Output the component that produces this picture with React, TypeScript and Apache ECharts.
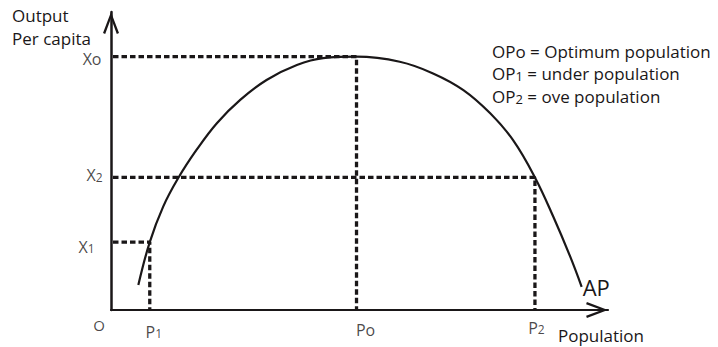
import React, { useEffect, useRef } from "react";
import * as echarts from "echarts";

// Average product (output per capita) curve
const curveX = [5.5, 7.8, 10.5, 13.5, 17.2, 21.3, 26.0, 31.3, 37.4, 42.7, 49.4, 58.1, 64.8, 70.9, 76.3, 80.9, 85.3, 89.0, 92.4, 94.7];
const curveY = [8.4, 22.8, 34.7, 44.2, 53.7, 62.7, 70.5, 77.2, 82.2, 84.5, 85.0, 83.3, 79.4, 73.8, 66.0, 57.0, 44.5, 31.3, 17.9, 7.8];

// Reference points: P1 / Po / P2 on the population axis, X1 / Xo / X2 on the output axis
const markSubs = ["1", "o", "2"];
const populationMarks = [7.8, 49.4, 85.3];
const outputLevels = [22.8, 85.0, 44.5];

// Legend lines
const legendSubs = ["o", "1", "2"];
const legendTexts = ["Optimum population", "under population", "ove population"];

const FONT = "'Open Sans', 'DejaVu Sans', sans-serif";
const INK = "#1a1718";

const sub = (main: string, s: string, tail = "") =>
  (s === "o" ? `{m|${main}o}` : `{m|${main}}{s|${s}}`) + (tail ? `{m|${tail}}` : "");

const ARROW = "path://M8 0 L16 21 L13.8 21.8 L8 6.2 L2.2 21.8 L0 21 Z";

export default function App() {
  const ref = useRef<HTMLDivElement>(null);

  useEffect(() => {
    if (!ref.current) return;
    const chart = echarts.init(ref.current, undefined, { renderer: "svg" });

    const labelRich = (size: number) => ({
      m: { fontSize: size, fontFamily: FONT, color: INK },
      s: { fontSize: Math.round(size * 0.75), fontFamily: FONT, color: INK, verticalAlign: "bottom" },
    });

    const yOffsets = [[-7, 4.5], [0, 2.5], [1, -2]];
    const xOffsets = [[4, 2], [9, 0], [1.5, -2]];

    const dashSeries = populationMarks.map((p, i) => ({
      type: "line",
      data: [[0, outputLevels[i]], [p, outputLevels[i]], [p, 0]],
      symbol: "none",
      lineStyle: { color: INK, width: 3.3, type: [5.5, 3], dashOffset: -2 },
      silent: true,
      z: 2,
    }));

    const option: any = {
      animation: false,
      backgroundColor: "#ffffff",
      grid: { left: 111, right: 110, top: 12, bottom: 37, containLabel: false, outerBoundsMode: "none" },
      xAxis: {
        type: "value",
        min: 0,
        max: 100,
        axisLine: {
          show: true,
          onZero: false,
          symbol: ["none", ARROW],
          symbolSize: [16, 22],
          symbolOffset: [0, -11],
          lineStyle: { color: INK, width: 2.2 },
        },
        axisTick: { show: false },
        axisLabel: { show: false },
        splitLine: { show: false },
      },
      yAxis: {
        type: "value",
        min: 0,
        max: 100,
        axisLine: {
          show: true,
          onZero: false,
          symbol: ["none", ARROW],
          symbolSize: [16, 22],
          symbolOffset: [0, -11],
          lineStyle: { color: INK, width: 2.5 },
        },
        axisTick: { show: false },
        axisLabel: { show: false },
        splitLine: { show: false },
      },
      series: [
        ...dashSeries,
        {
          type: "line",
          name: "AP",
          data: curveX.map((x, i) => [x, curveY[i]]),
          smooth: 0.4,
          symbol: "none",
          lineStyle: { color: INK, width: 2.2 },
          endLabel: {
            show: true,
            formatter: "AP",
            distance: 1,
            fontSize: 22,
            fontFamily: FONT,
            color: INK,
          },
          z: 3,
        },
        {
          type: "scatter",
          symbolSize: 1,
          itemStyle: { color: "transparent" },
          silent: true,
          data: outputLevels.map((l, i) => ({
            value: [0, l],
            label: {
              show: true,
              position: "left",
              distance: 9,
              offset: yOffsets[i],
              formatter: sub("X", markSubs[i]),
              rich: labelRich(16),
            },
          })),
          z: 4,
        },
        {
          type: "scatter",
          symbolSize: 1,
          itemStyle: { color: "transparent" },
          silent: true,
          data: [
            ...populationMarks.map((p, i) => ({
              value: [p, 0],
              label: {
                show: true,
                position: "bottom",
                distance: 11,
                offset: xOffsets[i],
                formatter: sub("P", markSubs[i]),
                rich: labelRich(16),
              },
            })),
            {
              value: [0, 0],
              label: {
                show: true,
                position: "bottom",
                distance: 11,
                offset: [-12, -4.5],
                formatter: "O",
                fontSize: 15,
                fontFamily: FONT,
                color: INK,
              },
            },
          ],
          z: 4,
        },
      ],
      graphic: [
        {
          type: "text",
          x: 12,
          y: 15.3,
          style: { text: "Output", fontSize: 17, fontFamily: FONT, fill: INK, verticalAlign: "middle", align: "left" },
        },
        {
          type: "text",
          x: 12,
          y: 38.8,
          style: { text: "Per capita", fontSize: 17, fontFamily: FONT, fill: INK, verticalAlign: "middle", align: "left" },
        },
        {
          type: "text",
          x: 558,
          y: 335,
          style: { text: "Population", fontSize: 17, fontFamily: FONT, fill: INK, verticalAlign: "middle", align: "left" },
        },
        ...legendTexts.map((t, i) => ({
          type: "text",
          x: 492,
          y: [51.7, 73.8, 96.7][i],
          style: {
            text: sub("OP", legendSubs[i], " = " + t),
            verticalAlign: "middle",
            align: "left",
            fontSize: 17,
            fontFamily: FONT,
            fill: INK,
            rich: {
              m: { fontSize: 17, fontFamily: FONT, fill: INK },
              s: { fontSize: 13, fontFamily: FONT, fill: INK, verticalAlign: "bottom" },
            },
          },
        })),
      ],
    };

    chart.setOption(option);
    return () => chart.dispose();
  }, []);

  return (
    <div
      ref={ref}
      style={{ position: "fixed", left: 0, top: 0, width: 718, height: 347, background: "#fff" }}
    />
  );
}
